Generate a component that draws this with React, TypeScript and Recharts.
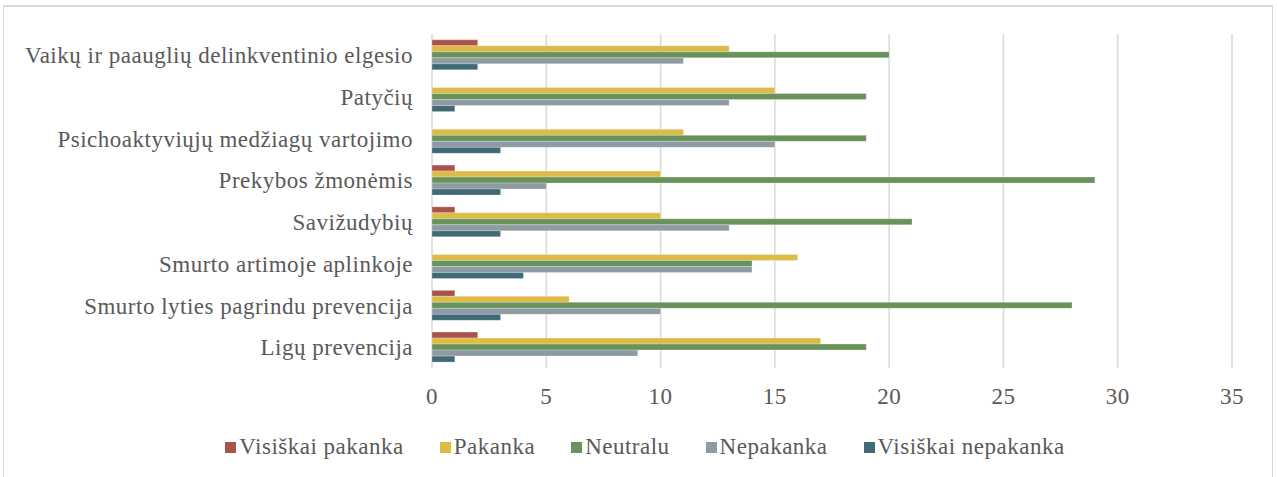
import { BarChart, Bar, XAxis, YAxis, CartesianGrid, Legend } from 'recharts'

const categories = [
  'Vaikų ir paauglių delinkventinio elgesio',
  'Patyčių',
  'Psichoaktyviųjų medžiagų vartojimo',
  'Prekybos žmonėmis',
  'Savižudybių',
  'Smurto artimoje aplinkoje',
  'Smurto lyties pagrindu prevencija',
  'Ligų prevencija',
]

const visiskaiPakanka = [2, 0, 0, 1, 1, 0, 1, 2]
const pakanka = [13, 15, 11, 10, 10, 16, 6, 17]
const neutralu = [20, 19, 19, 29, 21, 14, 28, 19]
const nepakanka = [11, 13, 15, 5, 13, 14, 10, 9]
const visiskaiNepakanka = [2, 1, 3, 3, 3, 4, 3, 1]

const xTicks = [0, 5, 10, 15, 20, 25, 30, 35]

const series = [
  { key: 'visiskaiPakanka', name: 'Visiškai pakanka', color: '#A9544B' },
  { key: 'pakanka', name: 'Pakanka', color: '#DDBB47' },
  { key: 'neutralu', name: 'Neutralu', color: '#68925A' },
  { key: 'nepakanka', name: 'Nepakanka', color: '#8E9BA3' },
  { key: 'visiskaiNepakanka', name: 'Visiškai nepakanka', color: '#406A76' },
]

const data = categories.map((name, i) => ({
  name,
  visiskaiPakanka: visiskaiPakanka[i],
  pakanka: pakanka[i],
  neutralu: neutralu[i],
  nepakanka: nepakanka[i],
  visiskaiNepakanka: visiskaiNepakanka[i],
}))

const font = '"Liberation Serif", "Times New Roman", serif'
const textColor = '#595959'
const tickStyle = { fill: textColor, fontSize: 23, fontFamily: font, letterSpacing: 0.5 }

// legend drawn by hand so the series keep their order
function SeriesLegend() {
  return (
    <div
      style={{
        display: 'flex',
        justifyContent: 'center',
        alignItems: 'center',
        fontFamily: font,
        fontSize: 23,
        letterSpacing: 0.5,
        color: textColor,
        paddingLeft: 49,
      }}
    >
      {series.map((s) => (
        <div key={s.key} style={{ display: 'flex', alignItems: 'center', marginRight: 36 }}>
          <span style={{ display: 'inline-block', width: 11, height: 11, background: s.color, marginRight: 3 }} />
          <span>{s.name}</span>
        </div>
      ))}
    </div>
  )
}

export default function App() {
  return (
    <div style={{ position: 'absolute', left: 0, top: 0, width: 1277, height: 477, background: '#fff', overflow: 'hidden' }}>
      <div
        style={{
          position: 'absolute',
          left: 3,
          top: 5,
          width: 1268,
          height: 480,
          border: '1px solid #d9d9d9',
          borderTopWidth: 2,
        }}
      />
      <div style={{ position: 'absolute', left: 0, top: 0 }}>
        <BarChart
          width={1277}
          height={477}
          data={data}
          layout="vertical"
          margin={{ top: 34, right: 45, left: 0, bottom: 69 }}
          barCategoryGap="14%"
          barGap={0}
        >
          <CartesianGrid stroke="#d9d9d9" strokeWidth={1.5} horizontal={false} />
          <XAxis
            type="number"
            domain={[0, 35]}
            ticks={xTicks}
            interval={0}
            axisLine={false}
            tickLine={false}
            tickSize={0}
            tickMargin={20}
            height={40}
            tick={tickStyle}
          />
          <YAxis
            type="category"
            dataKey="name"
            width={432}
            axisLine={false}
            tickLine={false}
            tickSize={0}
            tickMargin={19}
            interval={0}
            tick={tickStyle}
          />
          <Legend
            verticalAlign="middle"
            align="center"
            wrapperStyle={{ top: 434, left: 0, width: 1277 }}
            content={() => <SeriesLegend />}
          />
          {series.map((s) => (
            <Bar
              key={s.key}
              dataKey={s.key}
              name={s.name}
              fill={s.color}
              stroke="#ffffff"
              strokeOpacity={0.5}
              strokeWidth={0.5}
              isAnimationActive={false}
            />
          ))}
        </BarChart>
      </div>
    </div>
  )
}
